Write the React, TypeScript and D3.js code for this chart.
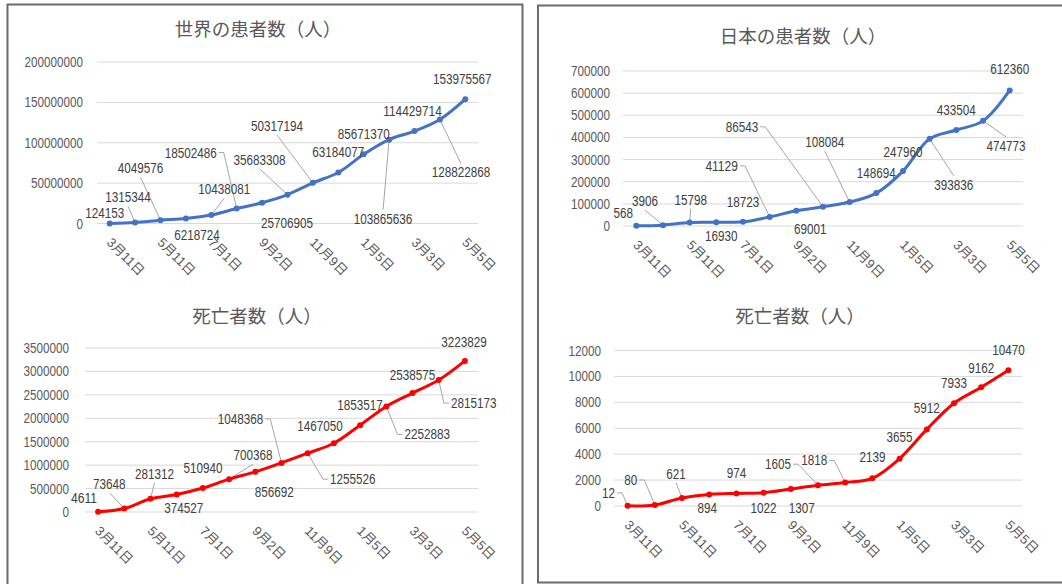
import * as d3 from "d3";

// 15 data points per series, only every other date is shown on the axis
const dates = [
  "3月11日", "4月11日", "5月11日", "6月11日", "7月1日", "8月1日", "9月2日", "10月5日",
  "11月9日", "12月7日", "1月5日", "2月3日", "3月3日", "4月5日", "5月5日",
];

const worldCases = [
  124153, 1315344, 4049576, 6218724, 10438081, 18502486, 25706905, 35683308,
  50317194, 63184077, 85671370, 103865636, 114429714, 128822868, 153975567,
];
const japanCases = [
  568, 3906, 15798, 16930, 18723, 41129, 69001, 86543, 108084, 148694, 247960,
  393836, 433504, 474773, 612360,
];
const worldDeaths = [
  4611, 73648, 281312, 374527, 510940, 700368, 856692, 1048368, 1255526, 1467050,
  1853517, 2252883, 2538575, 2815173, 3223829,
];
const japanDeaths = [
  12, 80, 621, 894, 974, 1022, 1307, 1605, 1818, 2139, 3655, 5912, 7933, 9162, 10470,
];

const titles = ["世界の患者数（人）", "日本の患者数（人）", "死亡者数（人）", "死亡者数（人）"];
const yMax = [200000000, 700000, 3500000, 12000];
const yStep = [50000000, 100000, 500000, 2000];

// label placement: [dx, dy, leader side] relative to the point
type Place = [number, number, string];
const place1: Place[] = [
  [-5, -10, ""], [-7, -25, "b"], [-20, -52, "b"], [11, 17, ""], [13, -26, "b"],
  [-46, -56, "r"], [25, 20, ""], [-28, -35, "b"], [-36, -57, "b"], [0, -20, ""],
  [0, -20, ""], [-6, 79, "t"], [-2, -20, ""], [21, 53, "t"], [-3, -20, ""],
];
const place2: Place[] = [
  [-13, -13, ""], [-18, -24, "b"], [1, -23, "b"], [5, 14, ""], [0, -20, ""],
  [-48, -51, "r"], [14, 18, ""], [-81, -80, "r"], [-25, -60, "b"], [0, -20, ""],
  [0, -19, ""], [24, 46, "t"], [0, -20, ""], [23, 25, "t"], [0, -21, ""],
];
const place3: Place[] = [
  [-14, -14, ""], [-15, -25, "b"], [4, -25, "b"], [7, 14, ""], [0, -20, ""],
  [24, -24, "b"], [19, 20, ""], [-41, -44, "r"], [45, 26, "l"], [-14, -17, ""],
  [0, -20, ""], [41, 28, "l"], [0, -18, ""], [35, 23, "l"], [-1, -19, ""],
];
const place4: Place[] = [
  [-19, -13, "r"], [-24, -25, "r"], [-6, -24, "b"], [-2, 14, ""], [0, -20, ""],
  [0, 15, ""], [11, 19, ""], [-40, -21, "r"], [-31, -22, "r"], [0, -21, ""],
  [0, -22, ""], [0, -21, ""], [0, -20, ""], [0, -19, ""], [0, -20, ""],
];

const NUM_FONT = "'Liberation Sans', Arial, sans-serif";
const CJK_FONT = "'Liberation Sans', 'Noto Sans CJK JP', sans-serif";
const FS = 14;
const DIGIT_W = 6.5; // the numbers in the original are condensed

interface ChartProps {
  title: string;
  values: number[];
  places: Place[];
  max: number;
  step: number;
  color: string;
  titleX: number;
  titleY: number;
  left: number;
  right: number;
  bottom: number;
  top: number;
  tickX: number;
}

function LineChart(p: ChartProps) {
  const x = d3.scalePoint<number>().domain(d3.range(dates.length)).range([p.left, p.right]).padding(0.5);
  const y = d3.scaleLinear().domain([0, p.max]).range([p.bottom, p.top]);
  const ticks = d3.range(0, p.max + p.step / 2, p.step);
  const line = d3
    .line<number>()
    .x((_, i) => x(i) as number)
    .y((d) => y(d))
    .curve(d3.curveCatmullRom.alpha(0.5));

  return (
    <g>
      <text x={p.titleX} y={p.titleY} textAnchor="middle" dominantBaseline="central"
        fontFamily="'Noto Sans CJK JP', sans-serif" fontSize={18.5} fill="#595959">
        {p.title}
      </text>
      {ticks.map((t) => (
        <g key={t}>
          <line x1={p.left} x2={p.right} y1={y(t)} y2={y(t)} stroke="#d9d9d9" strokeWidth={1} />
          <text x={p.tickX} y={y(t)} textAnchor="end" dominantBaseline="central"
            textLength={String(t).length * DIGIT_W} lengthAdjust="spacingAndGlyphs"
            fontFamily={NUM_FONT} fontSize={FS} fill="#595959">
            {t}
          </text>
        </g>
      ))}
      {dates.map((d, i) =>
        i % 2 === 0 ? (
          <text key={d} transform={`translate(${(x(i) as number) + 3},${p.bottom + 13}) rotate(45)`}
            dominantBaseline="hanging" fontFamily={CJK_FONT} fontSize={13} fill="#595959">
            {d}
          </text>
        ) : null
      )}
      {p.values.map((v, i) => {
        const [dx, dy, side] = p.places[i];
        const px = x(i) as number;
        const py = y(v);
        const lx = px + dx;
        const ly = py + dy;
        const w = String(v).length * DIGIT_W;
        const h = 14;
        let path = "";
        if (side === "b") path = `M${lx},${ly + h / 2 + 2}L${px},${py}`;
        else if (side === "t") path = `M${lx},${ly - h / 2 - 2}L${px},${py}`;
        else if (side === "r") path = `M${lx + w / 2 + 2},${ly}h5L${px},${py}`;
        else if (side === "l") path = `M${lx - w / 2 - 2},${ly}h-5L${px},${py}`;
        return path ? <path key={i} d={path} fill="none" stroke="#a6a6a6" strokeWidth={1} /> : null;
      })}
      <path d={line(p.values) ?? ""} fill="none" stroke={p.color} strokeWidth={3} strokeLinejoin="round" />
      {p.values.map((v, i) => (
        <circle key={i} cx={x(i) as number} cy={y(v)} r={3} fill={p.color} />
      ))}
      {p.values.map((v, i) => (
        <text key={i} x={(x(i) as number) + p.places[i][0]} y={y(v) + p.places[i][1]}
          textAnchor="middle" dominantBaseline="central"
          textLength={String(v).length * DIGIT_W} lengthAdjust="spacingAndGlyphs"
          fontFamily={NUM_FONT} fontSize={FS} fill="#404040">
          {v}
        </text>
      ))}
    </g>
  );
}

export default function App() {
  const blue = "#4472C4";
  const red = "#FF0000";
  return (
    <div style={{ position: "fixed", left: 0, top: 0 }}>
      <svg width={1062} height={584} style={{ display: "block", background: "#fff" }}>
        <rect x={7.5} y={4.5} width={515} height={620} fill="none" stroke="#6b6b6b" strokeWidth={2} />
        <rect x={538} y={5.5} width={560} height={577} fill="none" stroke="#6b6b6b" strokeWidth={2} />
        <LineChart title={titles[0]} values={worldCases} places={place1} max={yMax[0]} step={yStep[0]}
          color={blue} titleX={258} titleY={28} left={97} right={478} bottom={223.5} top={62} tickX={83} />
        <LineChart title={titles[1]} values={japanCases} places={place2} max={yMax[1]} step={yStep[1]}
          color={blue} titleX={803} titleY={35} left={623} right={1023} bottom={226} top={71} tickX={610} />
        <LineChart title={titles[2]} values={worldDeaths} places={place3} max={yMax[2]} step={yStep[2]}
          color={red} titleX={257} titleY={315} left={85} right={478} bottom={512} top={348} tickX={69} />
        <LineChart title={titles[3]} values={japanDeaths} places={place4} max={yMax[3]} step={yStep[3]}
          color={red} titleX={800} titleY={315} left={614} right={1022} bottom={506} top={350.5} tickX={601} />
      </svg>
    </div>
  );
}
